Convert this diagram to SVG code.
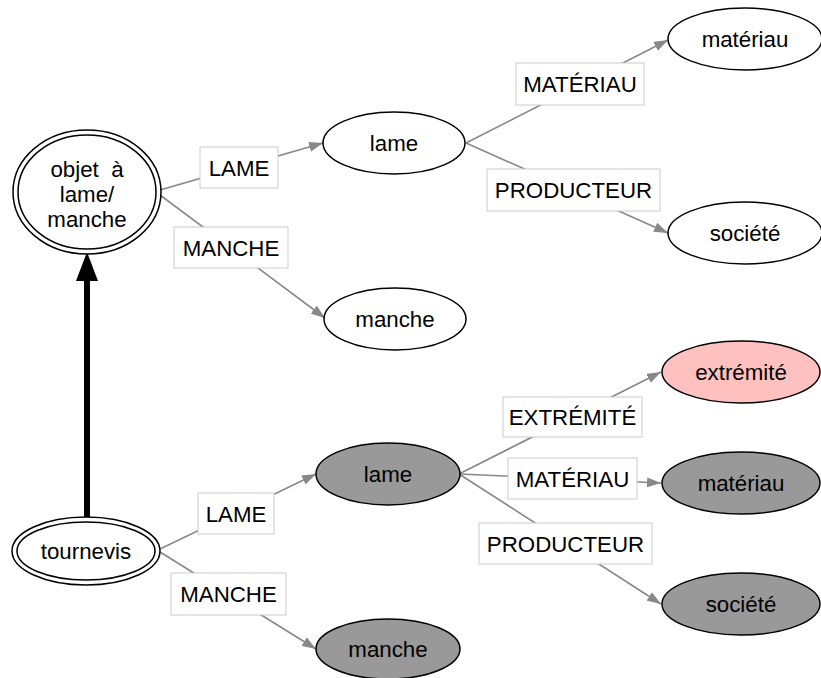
<svg xmlns="http://www.w3.org/2000/svg" width="821" height="678" viewBox="0 0 821 678">
<style>
text{font-family:"Liberation Sans",Arial,sans-serif;font-size:22.3px;fill:#000;text-anchor:middle}
.n{fill:#fff;stroke:#000;stroke-width:1.5}
.g{fill:#999;stroke:#000;stroke-width:1.5}
.p{fill:#ffc0c0;stroke:#000;stroke-width:1.5}
.e{stroke:#888;stroke-width:1.6;fill:none;marker-end:url(#ah)}
.lb{fill:#fff;stroke:#ccc;stroke-width:1}
</style>
<defs>
<marker id="ah" markerWidth="14" markerHeight="10" refX="14" refY="5" orient="auto" markerUnits="userSpaceOnUse">
<path d="M0,0 L14,5 L0,10 Z" fill="#888"/>
</marker>
</defs>
<rect width="821" height="678" fill="#fff"/>
<g id="connectors">
<line class="e" x1="160" y1="190" x2="323" y2="143"/>
<line class="e" x1="160" y1="195" x2="325" y2="318"/>
<line class="e" x1="466" y1="143" x2="668" y2="40"/>
<line class="e" x1="466" y1="143" x2="668" y2="233"/>
<line class="e" x1="160" y1="549" x2="316" y2="474"/>
<line class="e" x1="160" y1="552" x2="316" y2="649"/>
<line class="e" x1="459" y1="474" x2="661" y2="372"/>
<line class="e" x1="459" y1="474" x2="661" y2="483"/>
<line class="e" x1="459" y1="474" x2="661" y2="604"/>
<line x1="87" y1="522" x2="87" y2="278" stroke="#000" stroke-width="6"/>
<path d="M76,281 L87,252 L98,281 Z" fill="#000"/>
<g id="labels">
<rect class="lb" x="200" y="147" width="78" height="41"/><text x="239" y="176">LAME</text>
<rect class="lb" x="174" y="227" width="114" height="41"/><text x="231" y="256">MANCHE</text>
<rect class="lb" x="516" y="63" width="128" height="42"/><text x="580" y="92">MATÉRIAU</text>
<rect class="lb" x="487" y="169" width="173" height="42"/><text x="573.5" y="198">PRODUCTEUR</text>
<rect class="lb" x="198" y="493" width="76" height="41"/><text x="236" y="522">LAME</text>
<rect class="lb" x="171" y="573" width="115" height="42"/><text x="228.5" y="602">MANCHE</text>
<rect class="lb" x="503" y="397" width="139" height="40"/><text x="572.5" y="425">EXTRÉMITÉ</text>
<rect class="lb" x="508" y="458" width="129" height="41"/><text x="572.5" y="487">MATÉRIAU</text>
<rect class="lb" x="479" y="523" width="173" height="41"/><text x="565.5" y="552">PRODUCTEUR</text>
</g>
</g>
<g id="objet">
<ellipse class="n" cx="87" cy="192" rx="74" ry="62"/>
<ellipse class="n" cx="87" cy="192" rx="69" ry="57"/>
<text x="87" y="177" xml:space="preserve">objet  à</text>
<text x="87" y="202">lame/</text>
<text x="87" y="227">manche</text>
</g>
<g id="lame1"><ellipse class="n" cx="394" cy="143" rx="71" ry="31"/><text x="394" y="151">lame</text></g>
<g id="manche1"><ellipse class="n" cx="395" cy="319" rx="71" ry="31"/><text x="395" y="327">manche</text></g>
<g id="materiau1"><ellipse class="n" cx="745" cy="39" rx="77" ry="31"/><text x="745" y="47">matériau</text></g>
<g id="societe1"><ellipse class="n" cx="745" cy="233" rx="77" ry="31"/><text x="745" y="241">société</text></g>
<g id="tournevis">
<ellipse class="n" cx="86" cy="551" rx="74" ry="34"/>
<ellipse class="n" cx="86" cy="551" rx="69" ry="29"/>
<text x="86" y="559">tournevis</text>
</g>
<g id="lame2"><ellipse class="g" cx="388" cy="474" rx="72" ry="31"/><text x="388" y="482">lame</text></g>
<g id="manche2"><ellipse class="g" cx="388" cy="649" rx="72" ry="30"/><text x="388" y="657">manche</text></g>
<g id="extremite"><ellipse class="p" cx="741" cy="372" rx="79" ry="31"/><text x="741" y="380">extrémité</text></g>
<g id="materiau2"><ellipse class="g" cx="741" cy="483" rx="79" ry="31"/><text x="741" y="491">matériau</text></g>
<g id="societe2"><ellipse class="g" cx="741" cy="604" rx="79" ry="31"/><text x="741" y="612">société</text></g>
</svg>
